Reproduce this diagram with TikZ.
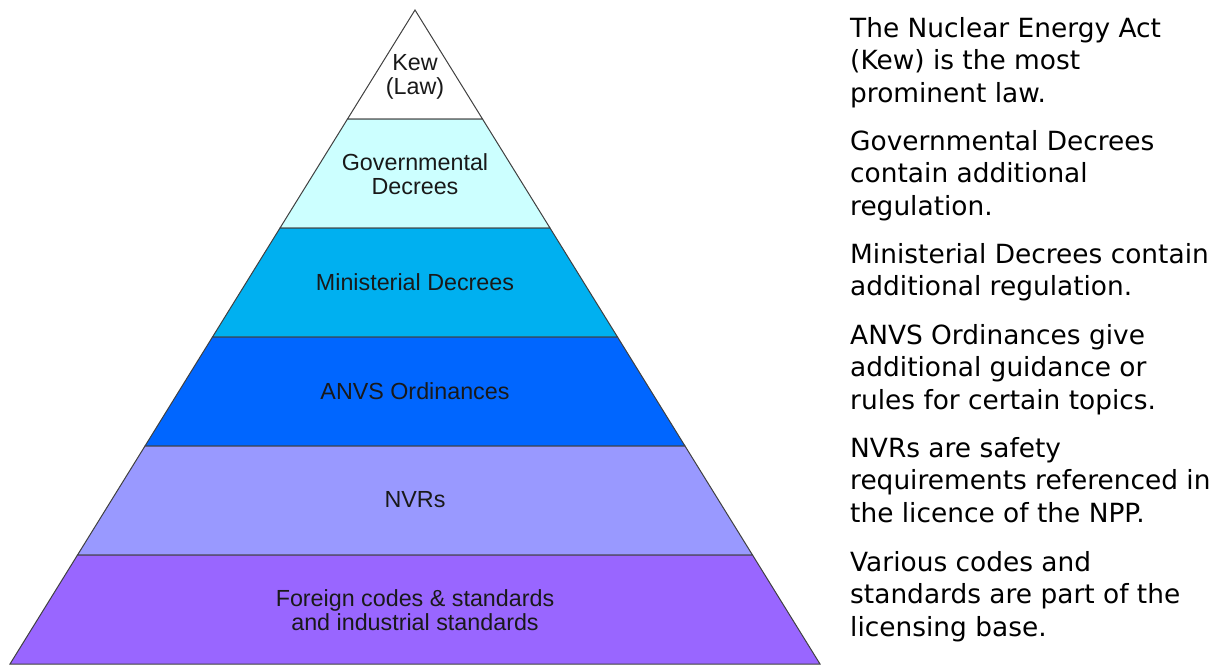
\documentclass[tikz,border=0pt]{standalone}
\usepackage{fontspec}
\setmainfont{Liberation Sans}
\newfontfamily\descfont{DejaVu Sans}
\definecolor{edge}{HTML}{404040}
\definecolor{cA}{HTML}{FFFFFF}
\definecolor{cB}{HTML}{CCFFFF}
\definecolor{cC}{HTML}{00B0F0}
\definecolor{cD}{HTML}{0066FF}
\definecolor{cE}{HTML}{9999FF}
\definecolor{cF}{HTML}{9966FF}
\tikzset{
  layer/.style={draw=edge, line width=1pt, line join=miter},
  lbl/.style={font=\fontsize{23.3}{24}\selectfont, align=center, text=black!90, inner sep=0pt},
  desc/.style={font=\descfont\fontsize{26.4}{32.5}\selectfont, align=left, anchor=base west, inner sep=0pt, text=black}
}
\begin{document}
\begin{tikzpicture}[x=1pt,y=-1pt]
\useasboundingbox (0,0) rectangle (1222,664);
% edge points
\coordinate (apex) at (415,10);
\foreach \i/\yy in {1/119,2/228,3/337,4/446,5/555,6/664}{
  \pgfmathsetmacro{\dx}{(\yy-10)/654*405}
  \coordinate (L\i) at ({415-\dx},\yy);
  \coordinate (R\i) at ({415+\dx},\yy);
}
\filldraw[layer, fill=cA] (apex) -- (R1) -- (L1) -- cycle;
\filldraw[layer, fill=cB] (L1) -- (R1) -- (R2) -- (L2) -- cycle;
\filldraw[layer, fill=cC] (L2) -- (R2) -- (R3) -- (L3) -- cycle;
\filldraw[layer, fill=cD] (L3) -- (R3) -- (R4) -- (L4) -- cycle;
\filldraw[layer, fill=cE] (L4) -- (R4) -- (R5) -- (L5) -- cycle;
\filldraw[layer, fill=cF] (L5) -- (R5) -- (R6) -- (L6) -- cycle;

\node[lbl] (t1) at (415,77) {Kew\\(Law)};
\node[lbl] (t2) at (415,174) {Governmental\\Decrees};
\node[lbl] (t3) at (415,282) {Ministerial Decrees};
\node[lbl] (t4) at (415,391) {ANVS Ordinances};
\node[lbl] (t5) at (415,500) {NVRs};
\node[lbl] (t6) at (415,610) {Foreign codes \& standards\\and industrial standards};

\node[desc] (d1) at (850,102) {The Nuclear Energy Act\\(Kew) is the most\\prominent law.};
\node[desc] (d2) at (850,215) {Governmental Decrees\\contain additional\\regulation.};
\node[desc] (d3) at (850,295.5) {Ministerial Decrees contain\\additional regulation.};
\node[desc] (d4) at (850,409) {ANVS Ordinances give\\additional guidance or\\rules for certain topics.};
\node[desc] (d5) at (850,522) {NVRs are safety\\requirements referenced in\\the licence of the NPP.};
\node[desc] (d6) at (850,636) {Various codes and\\standards are part of the\\licensing base.};
\end{tikzpicture}
\end{document}
